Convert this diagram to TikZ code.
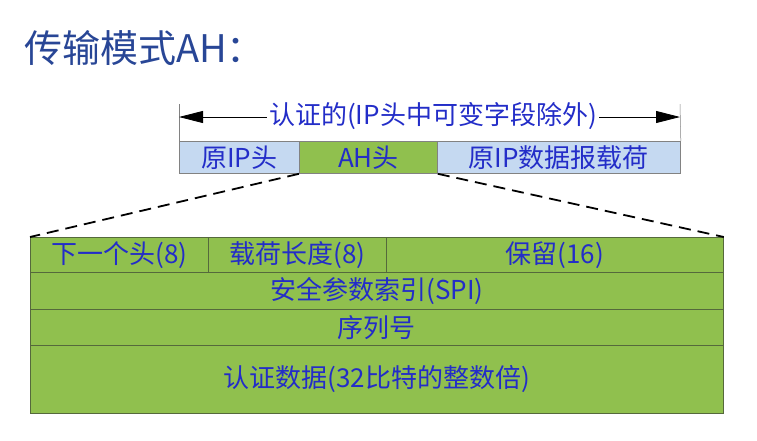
\documentclass[tikz,border=0pt]{standalone}
\usepackage{fontspec}
\newfontfamily\cjk{Noto Sans CJK SC}
\usetikzlibrary{arrows.meta}
\definecolor{titleblue}{RGB}{40,70,150}
\definecolor{txtblue}{RGB}{35,45,200}
\definecolor{lblue}{RGB}{197,217,241}
\definecolor{agreen}{RGB}{144,192,78}
\definecolor{gborder}{RGB}{85,105,60}
\definecolor{bborder}{RGB}{130,130,130}
\tikzset{
  cell/.style={draw=#1, line width=0.8pt, inner sep=0pt, anchor=north west, font=\cjk\fontsize{26}{26}\selectfont, text=txtblue},
}
\begin{document}
\begin{tikzpicture}[x=1pt,y=-1pt]
\useasboundingbox (0,0) rectangle (757,440);
% title
\node[anchor=base west, inner sep=0pt, text=titleblue, font=\cjk\fontsize{38}{38}\selectfont] (title) at (24,62) {传输模式AH：};
% top row
\node[cell=bborder, fill=lblue, minimum width=120pt, minimum height=32pt] (ip) at (179,141) {原IP头};
\node[cell=bborder, fill=agreen, minimum width=138pt, minimum height=32pt] (ah) at (299,141) {AH头};
\node[cell=bborder, fill=lblue, minimum width=243pt, minimum height=32pt] (pl) at (437,141) {原IP数据报载荷};
% brackets
\coordinate (lt) at (179,104);
\coordinate (rt) at (680,104);
\draw[line width=0.5pt, bborder] (lt) -- (ip.north west);
\draw[line width=0.5pt, bborder] (rt) -- (pl.north east);
\coordinate (la) at (179,117);
\coordinate (ra) at (680,117);
\draw[line width=0.8pt, -{Triangle[length=24pt,width=12pt]}] (432,117) -- (ra);
\draw[line width=0.8pt, -{Triangle[length=24pt,width=12pt]}] (432,117) -- (la);
\node[fill=white, inner sep=2pt, text=txtblue, font=\cjk\fontsize{26}{26}\selectfont] (auth) at (433,116) {认证的(IP头中可变字段除外)};
% bottom table
\node[cell=gborder, fill=agreen, minimum width=178pt, minimum height=35pt] (nh) at (30,237) {下一个头(8)};
\node[cell=gborder, fill=agreen, minimum width=178pt, minimum height=35pt] (plen) at (208,237) {载荷长度(8)};
\node[cell=gborder, fill=agreen, minimum width=337pt, minimum height=35pt] (res) at (386,237) {保留(16)};
\node[cell=gborder, fill=agreen, minimum width=693pt, minimum height=37pt] (spi) at (30,272) {安全参数索引(SPI)};
\node[cell=gborder, fill=agreen, minimum width=693pt, minimum height=36pt] (seq) at (30,309) {序列号};
\node[cell=gborder, fill=agreen, minimum width=693pt, minimum height=68pt] (ad) at (30,345) {认证数据(32比特的整数倍)};
% dashed expansion lines
\draw[line width=1.8pt, dash pattern=on 12pt off 7pt] (ah.south west) -- (nh.north west);
\draw[line width=1.8pt, dash pattern=on 12pt off 7pt] (ah.south east) -- (res.north east);
\end{tikzpicture}
\end{document}
